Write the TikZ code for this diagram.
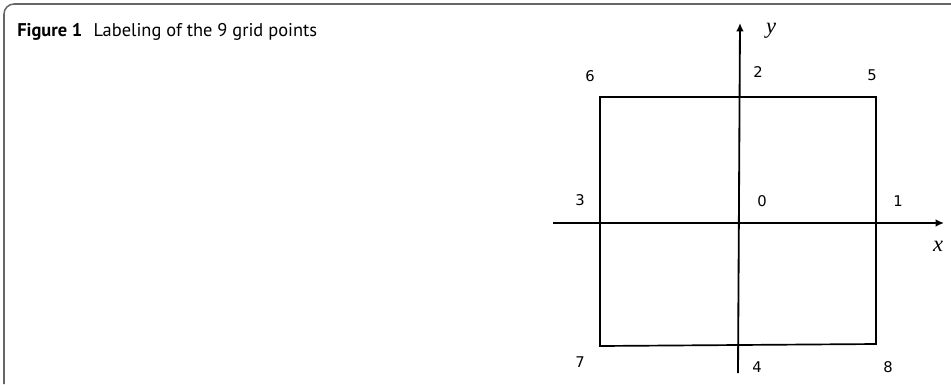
\documentclass[tikz,border=0pt]{standalone}
\usepackage{fontspec}
\setmainfont{Liberation Serif}
\newfontfamily\capfont{PT Sans}
\newfontfamily\digfont{DejaVu Sans}
\usetikzlibrary{arrows.meta}
\begin{document}
\begin{tikzpicture}[x=0.025cm, y=-0.025cm, >={Latex[length=6pt,width=5.5pt]},
    frame/.style={draw=black!60, line width=1.1pt, rounded corners=0.25cm},
    cell/.style={draw=black, line width=1.2pt},
    axis/.style={->, line width=1.3pt},
    lab/.style={font=\digfont\fontsize{10.5}{11}\selectfont, inner sep=0pt},
    var/.style={font=\fontsize{16}{16}\selectfont\itshape, inner sep=0pt}]
  \useasboundingbox (0,0) rectangle (951,384);
  % figure frame and caption
  \draw[frame] (4,384) -- (4,4) -- (951,4);
  \node[anchor=base west, inner sep=0pt] (cap) at (17,36)
    {\capfont\fontsize{13.1}{14}\selectfont\bfseries Figure 1\hspace{8pt}\mdseries Labeling of the 9 grid points};
  % the square, drawn by hand in the original
  \coordinate (tl) at (600,97);
  \coordinate (tr) at (876,97);
  \coordinate (br) at (876,344);
  \coordinate (bl) at (600,346);
  \draw[cell] (tl) -- (tr) -- (br) -- (bl) -- cycle;
  % axes
  \coordinate (xs) at (553,223);
  \coordinate (xe) at (944,223);
  \coordinate (ys) at (738,373);
  \coordinate (ye) at (740,23);
  \draw[axis] (xs) -- (xe);
  \draw[axis] (ys) -- (ye);
  \node[var] (xl) at (938,246) {x};
  \node[var] (yl) at (771,31) {y};
  % grid point numbers
  \foreach \n/\px/\py in {0/762/201, 1/898/201, 2/758/72, 3/580/200, 4/757/367,
      5/872/75, 6/590/76, 7/580/362, 8/888/367}
    \node[lab] (p\n) at (\px,\py) {\n};
\end{tikzpicture}
\end{document}
